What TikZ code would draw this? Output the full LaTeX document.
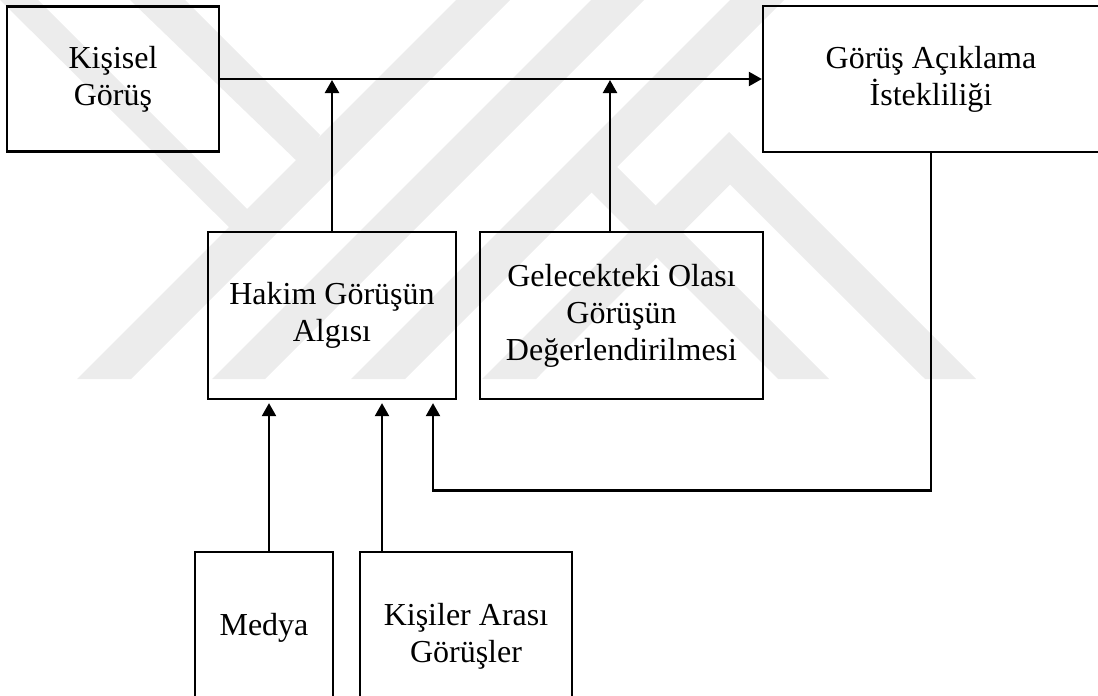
\documentclass[tikz,border=0pt]{standalone}
\usepackage{fontspec}
\setmainfont{Liberation Serif}
\usetikzlibrary{arrows.meta}
\definecolor{wmgray}{RGB}{236,236,236}
\begin{document}
\begin{tikzpicture}[x=1pt,y=-1pt,
  box/.style={draw, line width=2.3pt, align=center, inner sep=0pt,
    font=\fontsize{32}{37}\selectfont},
  link/.style={line width=2.3pt},
  arr/.style={link, -{Triangle[length=13pt,width=14pt]}},
  band/.style={fill=wmgray, draw=none}]
\useasboundingbox (0,0) rectangle (1098,696);

% faint background emblem made of diagonal bands
\fill[band] (77,379) -- (131,379) -- (510,0) -- (456,0) -- cycle;
\fill[band] (212,379) -- (265,379) -- (644,0) -- (591,0) -- cycle;
\fill[band] (351,379) -- (405,379) -- (784,0) -- (730,0) -- cycle;
\fill[band] (0,0) -- (38,0) -- (262,224) -- (244,242) -- cycle;
\fill[band] (130,0) -- (185,0) -- (320,135) -- (302,166) -- cycle;
\fill[band] (778,379) -- (829,379) -- (610,160) -- (585,186) -- cycle;
\fill[band] (482,379) -- (536,379) -- (730,184.5) -- (925,379) -- (976,379) -- (729,132) -- cycle;

% boxes
\node[box, minimum width=212pt, minimum height=145pt] (kisisel) at (113,79) {Kişisel\\Görüş};
\node[box, minimum width=336pt, minimum height=146pt] (gorus) at (931,79) {Görüş Açıklama\\İstekliliği};
\node[box, minimum width=248pt, minimum height=167pt] (hakim) at (332,315.5) {Hakim Görüşün\\Algısı};
\node[box, minimum width=283pt, minimum height=167pt] (gelecek) at (621.5,315.5) {Gelecekteki Olası\\Görüşün\\Değerlendirilmesi};
\node[box, minimum width=138pt, minimum height=152pt] (medya) at (264,628) {Medya};
\node[box, minimum width=212pt, minimum height=168pt] (kisiler) at (466,636) {Kişiler Arası\\Görüşler};

% connectors
\coordinate (gtop) at ([xshift=-11.5pt]gelecek.north);
\coordinate (mtop) at ([xshift=5pt]medya.north);
\coordinate (ktop) at ([xshift=-84pt]kisiler.north);
\coordinate (fb) at ([xshift=101pt]hakim.south);
\coordinate (fbrow) at (0,490.5);

\draw[arr] (kisisel.east) -- (gorus.west);
\draw[arr, shorten >=1pt] (hakim.north) -- (hakim.north |- kisisel.east);
\draw[arr, shorten >=1pt] (gtop) -- (gtop |- kisisel.east);
\draw[arr, shorten >=3pt] (mtop) -- (mtop |- hakim.south);
\draw[arr, shorten >=3pt] (ktop) -- (ktop |- hakim.south);
\draw[arr, shorten >=3pt] (gorus.south) -- (gorus.south |- fbrow) -| (fb);
\end{tikzpicture}
\end{document}
